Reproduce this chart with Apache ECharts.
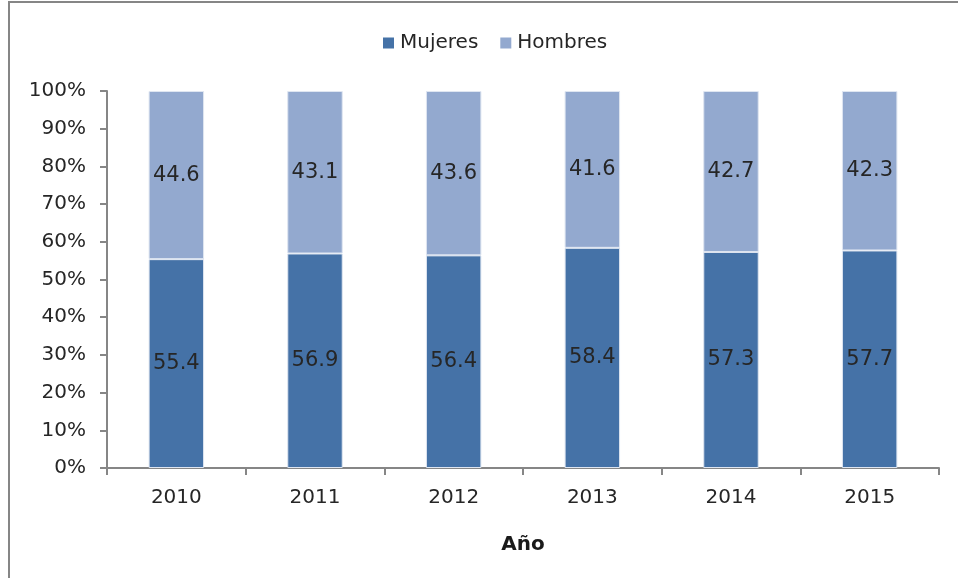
<!DOCTYPE html>
<html>
<head>
<meta charset="utf-8">
<script src="https://cdn.jsdelivr.net/npm/echarts@6/dist/echarts.min.js"></script>
<style>
  html, body { margin: 0; padding: 0; background: #ffffff; }
  #chart { width: 958px; height: 578px; }
</style>
</head>
<body>
<div id="chart"></div>
<script>
const years = ['2010', '2011', '2012', '2013', '2014', '2015']
const mujeres = [55.4, 56.9, 56.4, 58.4, 57.3, 57.7]
const hombres = [44.6, 43.1, 43.6, 41.6, 42.7, 42.3]

const font = 'DejaVu Sans'
const labelStyle = {
  show: true,
  position: 'inside',
  color: '#262626',
  fontFamily: font,
  fontSize: 21,
  formatter: p => p.value.toFixed(1)
}

const chart = echarts.init(document.getElementById('chart'))
chart.setOption({
  animation: false,
  textStyle: { fontFamily: font },
  graphic: [{
    type: 'rect',
    shape: { x: 9, y: 2, width: 1100, height: 1100 },
    style: { fill: 'none', stroke: '#868686', lineWidth: 2 },
    silent: true
  }],
  legend: {
    top: 28,
    left: 378,
    itemWidth: 11,
    itemHeight: 11,
    itemGap: 22,
    icon: 'rect',
    itemStyle: { borderWidth: 0 },
    textStyle: { fontFamily: font, fontSize: 20, color: '#262626', padding: [0, 0, 0, 1] },
    data: ['Mujeres', 'Hombres']
  },
  grid: {
    left: 107,
    right: 19,
    top: 91,
    bottom: 110
  },
  xAxis: {
    type: 'category',
    data: years,
    name: 'Año',
    nameLocation: 'middle',
    nameGap: 67,
    nameTextStyle: { fontFamily: font, fontSize: 20, fontWeight: 'bold', color: '#1a1a1a' },
    axisLine: { lineStyle: { color: '#868686', width: 2 } },
    axisTick: { show: true, alignWithLabel: false, length: 7, lineStyle: { color: '#868686', width: 2 } },
    axisLabel: { color: '#262626', fontSize: 20, margin: 20 }
  },
  yAxis: {
    type: 'value',
    min: 0,
    max: 100,
    interval: 10,
    axisLine: { show: true, lineStyle: { color: '#868686', width: 2 } },
    axisTick: { show: true, length: 7, lineStyle: { color: '#868686', width: 2 } },
    splitLine: { show: false },
    axisLabel: { color: '#262626', fontSize: 20, margin: 21, formatter: '{value}%' }
  },
  series: [{
    name: 'Mujeres',
    type: 'bar',
    stack: 'total',
    data: mujeres,
    barWidth: '40%',
    itemStyle: { color: '#4572a7', borderColor: '#dfe6f1', borderWidth: 1 },
    label: labelStyle
  }, {
    name: 'Hombres',
    type: 'bar',
    stack: 'total',
    data: hombres,
    barWidth: '40%',
    itemStyle: { color: '#93a9cf', borderColor: '#dfe6f1', borderWidth: 1 },
    label: labelStyle
  }]
})
</script>
</body>
</html>
